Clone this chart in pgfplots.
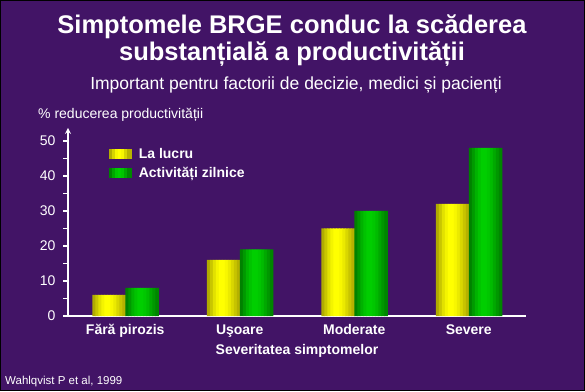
\documentclass[border=0pt]{standalone}
\usepackage{pgfplots}
\pgfplotsset{compat=1.18}
\usepackage{fontspec}
\setmainfont{Liberation Sans}
\definecolor{bgpurple}{RGB}{66,20,102}
\definecolor{ydark}{RGB}{165,160,0}
\definecolor{ybright}{RGB}{255,255,0}
\definecolor{gdark}{RGB}{0,118,0}
\definecolor{gbright}{RGB}{0,206,0}
\pgfplotstableread{
x y
0 6
1 16
2 25
3 32
}\lucru
\pgfplotstableread{
x y
0 8
1 19
2 30
3 48
}\zilnice
% strip percentages (bright share) across a bar, left to right
\def\striplist{0/12,1/40,2/68,3/88,4/100,5/100,6/92,7/78,8/58,9/38,10/18}
\newcommand{\gradbox}[2]{% legend image: 7 strips of 3pt
  \foreach \i/\p in {0/15,1/55,2/90,3/100,4/90,5/55,6/20}{
    \fill[#1!\p!#2] (\i*3pt,-4.5pt) rectangle (\i*3pt+3.4pt,4.5pt);}
  \path (27pt,0pt);}
\begin{document}
\begin{tikzpicture}[x=1pt,y=1pt]
\useasboundingbox (0,0) rectangle (585,391);
\fill[bgpurple] (0,0) rectangle (585,391);
\draw[black,line width=1pt] (0.5,0.5) rectangle (584.5,390.5);
\node[white,anchor=base,font=\fontsize{25.5}{29}\selectfont\bfseries] at (292,357) {Simptomele BRGE conduc la scăderea};
\node[white,anchor=base,font=\fontsize{25.5}{29}\selectfont\bfseries] at (292,330) {substanțială a productivității};
\node[white,anchor=base,font=\fontsize{17.5}{20}\selectfont] at (296,301) {Important pentru factorii de decizie, medici și pacienți};
\node[white,anchor=base west,font=\fontsize{14}{16}\selectfont,inner sep=0] at (38,272) {\% reducerea productivității};
\node[white,anchor=base west,font=\fontsize{11.5}{13}\selectfont,inner sep=0] at (5,7) {Wahlqvist P et al, 1999};
\begin{axis}[
  at={(68pt,75pt)}, anchor=south west,
  scale only axis, width=458pt, height=188pt,
  xmin=-0.5, xmax=3.5, ymin=0, ymax=53.7,
  axis x line=bottom, axis y line=left,
  axis line style={white, line width=1.6pt},
  x axis line style={-, shorten <=-5pt},
  y axis line style={-stealth},
  ybar=0pt, bar width=3.5pt,
  xtick=data,
  xticklabels={Fără pirozis, Uşoare, Moderate, Severe},
  major x tick style={draw=none},
  ytick={0,10,...,50}, minor ytick={5,15,...,45},
  tick align=outside, major tick length=5pt, minor tick length=5pt,
  y tick style={white, line width=1.2pt},
  /pgf/number format/assume math mode=true,
  yticklabel style={font=\fontsize{14}{16}\selectfont, text=white, xshift=-4pt},
  xticklabel style={font=\fontsize{14}{16}\selectfont\bfseries, text=white},
  xlabel={Severitatea simptomelor},
  xlabel style={font=\fontsize{14}{16}\selectfont\bfseries, text=white},
  legend style={at={(0.09,0.904)}, anchor=north west, draw=none, fill=none,
    inner sep=0pt, font=\fontsize{14}{16}\selectfont\bfseries, text=white,
    row sep=3pt, cells={anchor=west}},
]
\foreach \i/\p in \striplist {
  \edef\tmp{\noexpand\addplot[forget plot, draw=none, fill=ybright!\p!ydark, bar shift={-31.25pt+\i*3pt}] table[x=x,y=y] {\noexpand\lucru};}
  \tmp
}
\foreach \i/\p in \striplist {
  \edef\tmp{\noexpand\addplot[forget plot, draw=none, fill=gbright!\p!gdark, bar shift={1.75pt+\i*3pt}] table[x=x,y=y] {\noexpand\zilnice};}
  \tmp
}
\addlegendimage{legend image code/.code={\gradbox{ybright}{ydark}}}
\addlegendentry{La lucru}
\addlegendimage{legend image code/.code={\gradbox{gbright}{gdark}}}
\addlegendentry{Activități zilnice}
\end{axis}
\end{tikzpicture}
\end{document}
